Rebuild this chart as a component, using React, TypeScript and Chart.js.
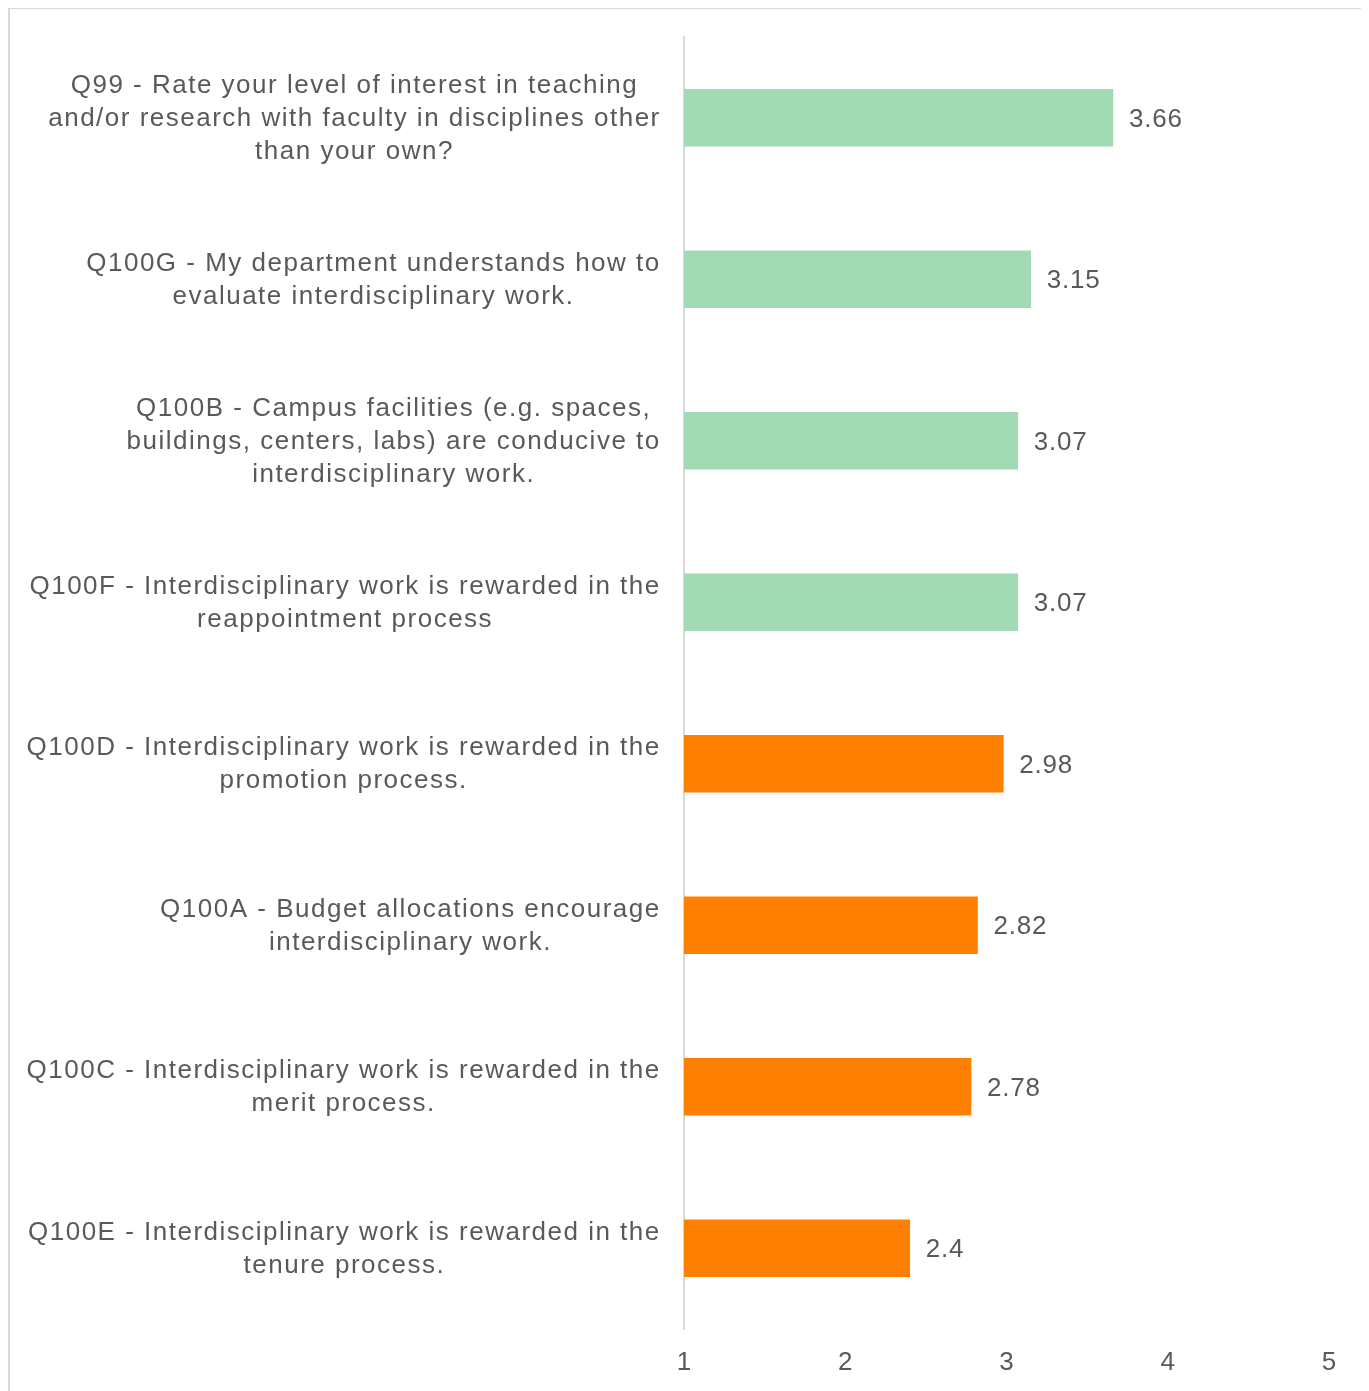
import React, { useEffect, useRef } from "react";
import { Chart, registerables } from "chart.js";

Chart.register(...registerables);

const categories: string[][] = [
  ["Q99 - Rate your level of interest in teaching", "and/or research with faculty in disciplines other", "than your own?"],
  ["Q100G - My department understands how to", "evaluate interdisciplinary work."],
  ["Q100B - Campus facilities (e.g. spaces,", "buildings, centers, labs) are conducive to", "interdisciplinary work."],
  ["Q100F - Interdisciplinary work is rewarded in the", "reappointment process"],
  ["Q100D - Interdisciplinary work is rewarded in the", "promotion process."],
  ["Q100A - Budget allocations encourage", "interdisciplinary work."],
  ["Q100C - Interdisciplinary work is rewarded in the", "merit process."],
  ["Q100E - Interdisciplinary work is rewarded in the", "tenure process."],
];

const values: number[] = [3.66, 3.15, 3.07, 3.07, 2.98, 2.82, 2.78, 2.4];
const valueLabels: string[] = ["3.66", "3.15", "3.07", "3.07", "2.98", "2.82", "2.78", "2.4"];
const barColors: string[] = ["#a1dab4", "#a1dab4", "#a1dab4", "#a1dab4", "#ff8000", "#ff8000", "#ff8000", "#ff8000"];
const xTicks: number[] = [1, 2, 3, 4, 5];

const TEXT = "#595959";
const FONT = "26px 'Liberation Sans', Arial, sans-serif";

const customLabels = {
  id: "customLabels",
  afterDraw(chart: any) {
    const ctx = chart.ctx;
    const yScale = chart.scales.y;
    const area = chart.chartArea;
    const meta = chart.getDatasetMeta(0);
    ctx.save();
    ctx.font = FONT;
    ctx.fillStyle = TEXT;
    ctx.textBaseline = "middle";
    const lineH = 33;
    const ls = 1.5;
    (ctx as any).letterSpacing = ls + "px";
    categories.forEach((lines, i) => {
      const yc = yScale.getPixelForTick(i) + 1;
      const widths = lines.map((l) => ctx.measureText(l).width);
      const maxW = Math.max(...widths);
      const right = area.left - 24;
      ctx.textAlign = "left";
      lines.forEach((l, j) => {
        const y = yc + (j - (lines.length - 1) / 2) * lineH;
        const x = right - maxW / 2 - (widths[j] - ls) / 2;
        ctx.fillText(l, x, y);
      });
    });
    (ctx as any).letterSpacing = "0.8px";
    ctx.textAlign = "left";
    meta.data.forEach((bar: any, i: number) => {
      ctx.fillText(valueLabels[i], bar.x + 16, bar.y + 2);
    });
    ctx.restore();
  },
};

export default function App() {
  const ref = useRef<HTMLCanvasElement | null>(null);
  useEffect(() => {
    if (!ref.current) return;
    const chart = new Chart(ref.current, {
      type: "bar",
      data: {
        labels: categories.map((c) => c.join(" ")),
        datasets: [
          {
            data: values,
            backgroundColor: barColors,
            borderWidth: 0,
            barThickness: 57,
            base: 1,
          },
        ],
      },
      options: {
        indexAxis: "y",
        responsive: true,
        maintainAspectRatio: false,
        animation: false,
        layout: { padding: { top: 28, right: 35, left: 0, bottom: 0 } },
        plugins: {
          legend: { display: false },
          tooltip: { enabled: false },
        },
        scales: {
          x: {
            min: 1,
            max: 5,
            afterBuildTicks: (scale: any) => {
              scale.ticks = xTicks.map((v) => ({ value: v }));
            },
            afterFit: (scale: any) => {
              scale.height = 70;
            },
            grid: { display: false, drawTicks: false },
            border: { display: false },
            ticks: {
              color: TEXT,
              font: { family: "'Liberation Sans', Arial, sans-serif", size: 26 },
              padding: 18,
              maxRotation: 0,
              autoSkip: false,
            },
          },
          y: {
            afterFit: (scale: any) => {
              scale.width = 674;
            },
            grid: { display: false, drawTicks: false },
            border: { display: true, color: "#d9d9d9", width: 2 },
            ticks: { display: false },
          },
        },
      },
      plugins: [customLabels],
    });
    return () => chart.destroy();
  }, []);

  return (
    <div
      style={{
        width: 1358,
        height: 1420,
        marginTop: -1,
        border: "2px solid #d9d9d9",
        boxSizing: "border-box",
        background: "#fff",
      }}
    >
      <div style={{ position: "relative", width: 1354, height: 1390 }}>
        <canvas ref={ref} />
      </div>
    </div>
  );
}
